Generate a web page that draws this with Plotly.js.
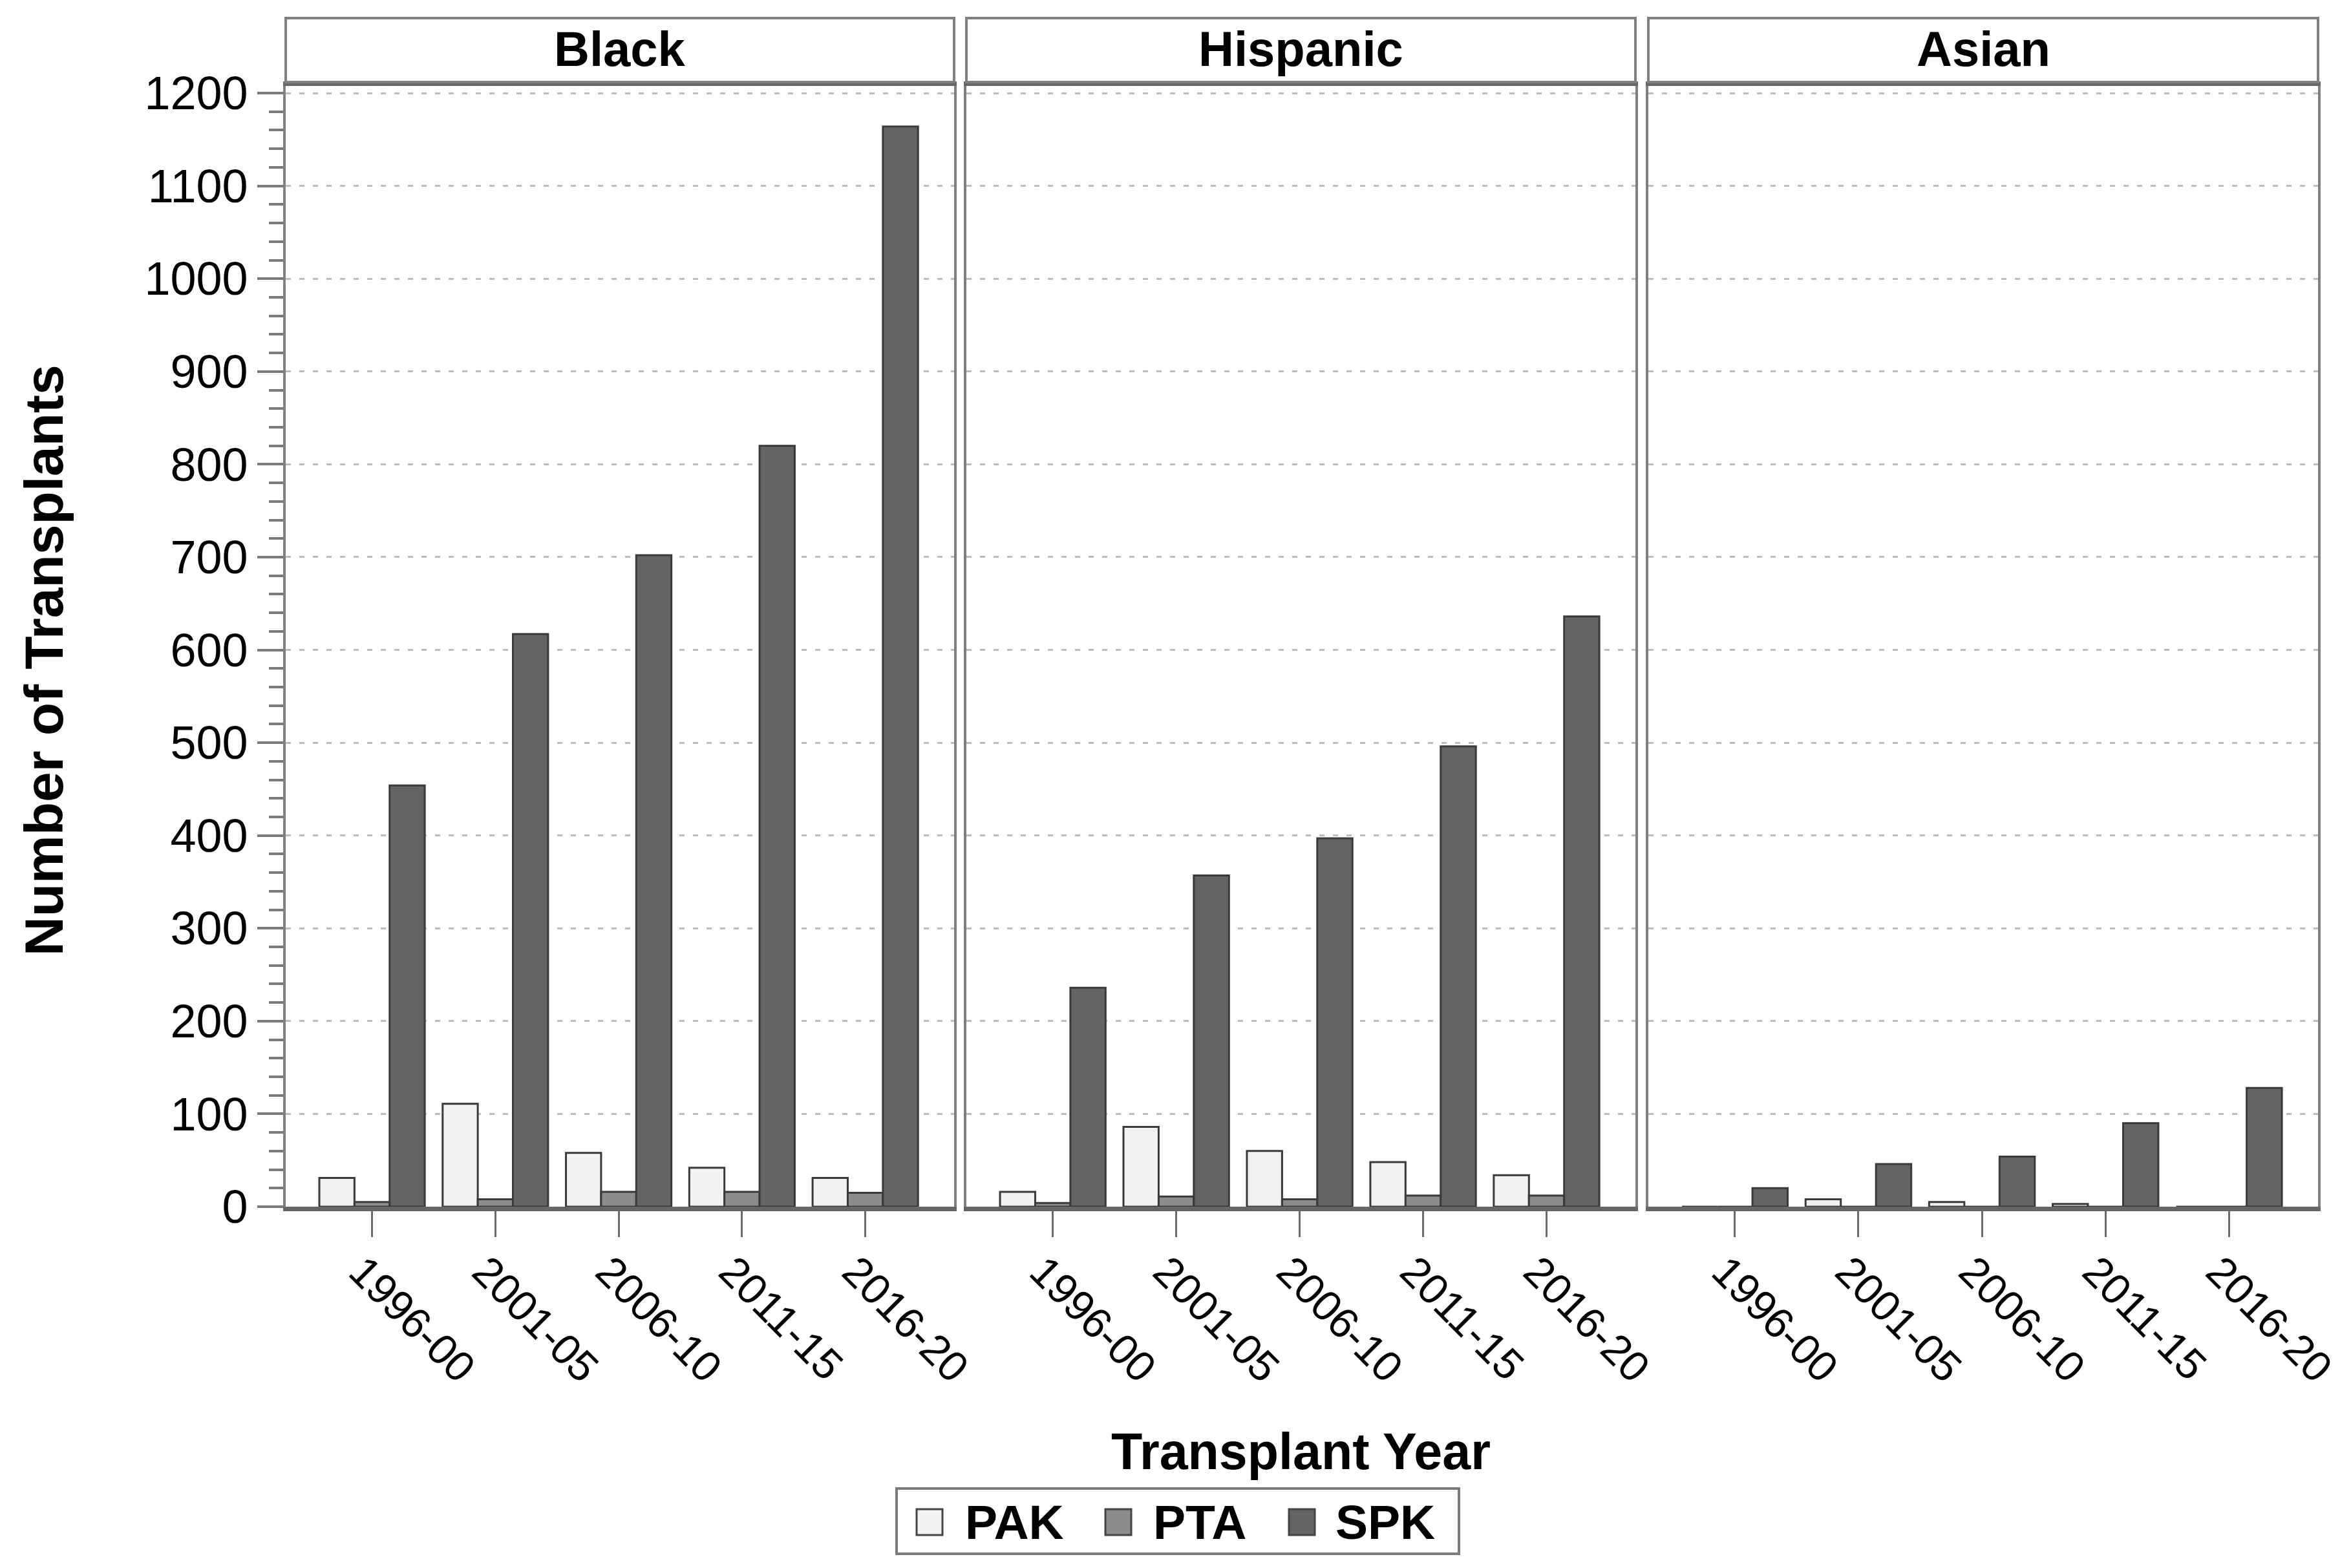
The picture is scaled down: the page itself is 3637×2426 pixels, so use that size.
<!DOCTYPE html>
<html><head><meta charset="utf-8">
<script src="https://cdn.plot.ly/plotly-3.0.1.min.js"></script>
<style>html,body{margin:0;padding:0;background:#fff;}#chart{width:3637px;height:2426px;}</style>
</head><body><div id="chart"></div>
<script>
// ---- data ----
const categories = ['1996-00', '2001-05', '2006-10', '2011-15', '2016-20'];
const panels = ['Black', 'Hispanic', 'Asian'];
const seriesNames = ['PAK', 'PTA', 'SPK'];
const yTickVals = [0, 100, 200, 300, 400, 500, 600, 700, 800, 900, 1000, 1100, 1200];

const blackPAK = [31, 111, 58, 42, 31];
const blackPTA = [5, 8, 16, 16, 15];
const blackSPK = [454, 617, 702, 820, 1164];

const hispanicPAK = [16, 86, 60, 48, 34];
const hispanicPTA = [4, 11, 8, 12, 12];
const hispanicSPK = [236, 357, 397, 496, 636];

const asianPAK = [0, 8, 5, 3, 0];
const asianPTA = [0, 0, 0, 0, 0];
const asianSPK = [20, 46, 54, 90, 128];

const xTitle = 'Transplant Year';
const yTitle = 'Number of Transplants';

// ---- styling / layout ----
const W = 3637, H = 2426;
const X = px => px / W;
const Y = py => 1 - py / H;
const FONT = 'Liberation Sans, Arial, Helvetica, sans-serif';
const seriesColors = { PAK: '#f2f2f2', PTA: '#8c8c8c', SPK: '#646464' };
const panelData = {
  Black: { PAK: blackPAK, PTA: blackPTA, SPK: blackSPK },
  Hispanic: { PAK: hispanicPAK, PTA: hispanicPTA, SPK: hispanicSPK },
  Asian: { PAK: asianPAK, PTA: asianPTA, SPK: asianSPK }
};
const panelPx = [[442, 1476], [1495, 2530], [2550, 3586]];
const plotTop = 133, plotBottom = 1867;
const stripTop = 28, stripBottom = 127;

const traces = [];
panels.forEach((p, i) => {
  const sfx = i === 0 ? '' : String(i + 1);
  seriesNames.forEach(s => {
    traces.push({
      type: 'bar', name: s, x: categories, y: panelData[p][s],
      xaxis: 'x' + sfx, yaxis: 'y' + sfx, showlegend: false,
      marker: { color: seriesColors[s], line: { color: '#3a3a3a', width: 3 } }
    });
  });
});

const layout = {
  width: W, height: H,
  margin: { l: 0, r: 0, t: 0, b: 0 },
  paper_bgcolor: '#ffffff', plot_bgcolor: '#ffffff',
  barmode: 'group', bargap: 0.145, bargroupgap: 0,
  font: { family: FONT, color: '#000' },
  showlegend: false,
  shapes: [], annotations: []
};

panels.forEach((p, i) => {
  const sfx = i === 0 ? '' : String(i + 1);
  layout['xaxis' + sfx] = {
    domain: [X(panelPx[i][0]), X(panelPx[i][1])],
    anchor: 'y' + sfx, type: 'category', range: [-0.70, 4.72],
    showline: true, linecolor: '#666666', linewidth: 7, mirror: true,
    ticks: 'outside', ticklen: 40, tickwidth: 3, tickcolor: '#6b6b6b',
    tickangle: 45, tickfont: { family: FONT, size: 66, color: '#000' },
    ticklabelshift: -16, ticklabelstandoff: -12,
    showgrid: false, zeroline: false, fixedrange: true
  };
  const ya = {
    domain: [Y(plotBottom), Y(plotTop)], anchor: 'x' + sfx,
    range: [0, 1207.7], tickmode: 'array', tickvals: yTickVals,
    showgrid: true, gridcolor: '#bdbdbd', gridwidth: 3, griddash: '8px,13px',
    showline: true, linecolor: '#808080', linewidth: 4, mirror: true,
    zeroline: false, fixedrange: true
  };
  if (i === 0) {
    Object.assign(ya, {
      ticks: 'outside', ticklen: 40, tickwidth: 4, tickcolor: '#7a7a7a',
      tickfont: { family: FONT, size: 72, color: '#000' },
      minor: { dtick: 20, ticks: 'outside', ticklen: 22, tickwidth: 4, tickcolor: '#7a7a7a', showgrid: false }
    });
  } else {
    Object.assign(ya, { showticklabels: false, ticks: '' });
  }
  layout['yaxis' + sfx] = ya;

  // strip header
  layout.shapes.push({
    type: 'rect', xref: 'paper', yref: 'paper',
    x0: X(panelPx[i][0]), x1: X(panelPx[i][1]), y0: Y(stripBottom), y1: Y(stripTop),
    line: { color: '#808080', width: 4 }, fillcolor: '#ffffff', layer: 'above'
  });
  layout.annotations.push({
    xref: 'paper', yref: 'paper', x: X((panelPx[i][0] + panelPx[i][1]) / 2), y: Y(76),
    xanchor: 'center', yanchor: 'middle', showarrow: false, text: p,
    font: { family: FONT, size: 76, weight: 'bold', color: '#000' }
  });
});

// axis titles
layout.annotations.push({
  xref: 'paper', yref: 'paper', x: X(2012), y: Y(2245), xanchor: 'center', yanchor: 'middle',
  showarrow: false, text: xTitle, font: { family: FONT, size: 79, weight: 'bold', color: '#000' }
});
layout.annotations.push({
  xref: 'paper', yref: 'paper', x: X(68), y: Y(1022), xanchor: 'center', yanchor: 'middle',
  showarrow: false, textangle: -90, text: yTitle,
  font: { family: FONT, size: 84, weight: 'bold', color: '#000' }
});

// custom legend (box, swatches, labels)
layout.shapes.push({
  type: 'rect', xref: 'paper', yref: 'paper', x0: X(1387), x1: X(2257), y0: Y(2404), y1: Y(2303),
  line: { color: '#7a7a7a', width: 4 }, fillcolor: 'rgba(0,0,0,0)'
});
const swatchX = [1418, 1710, 1994];
const labelX = [1495, 1786, 2068];
seriesNames.forEach((s, k) => {
  layout.shapes.push({
    type: 'rect', xref: 'paper', yref: 'paper',
    x0: X(swatchX[k]), x1: X(swatchX[k] + 40), y0: Y(2375), y1: Y(2335),
    line: { color: '#444444', width: 3 }, fillcolor: seriesColors[s]
  });
  layout.annotations.push({
    xref: 'paper', yref: 'paper', x: X(labelX[k] - 4), y: Y(2355), xanchor: 'left', yanchor: 'middle',
    showarrow: false, text: s, font: { family: FONT, size: 75, weight: 'bold', color: '#000' }
  });
});

Plotly.newPlot('chart', traces, layout, { staticPlot: true, displayModeBar: false });
</script>
</body></html>
